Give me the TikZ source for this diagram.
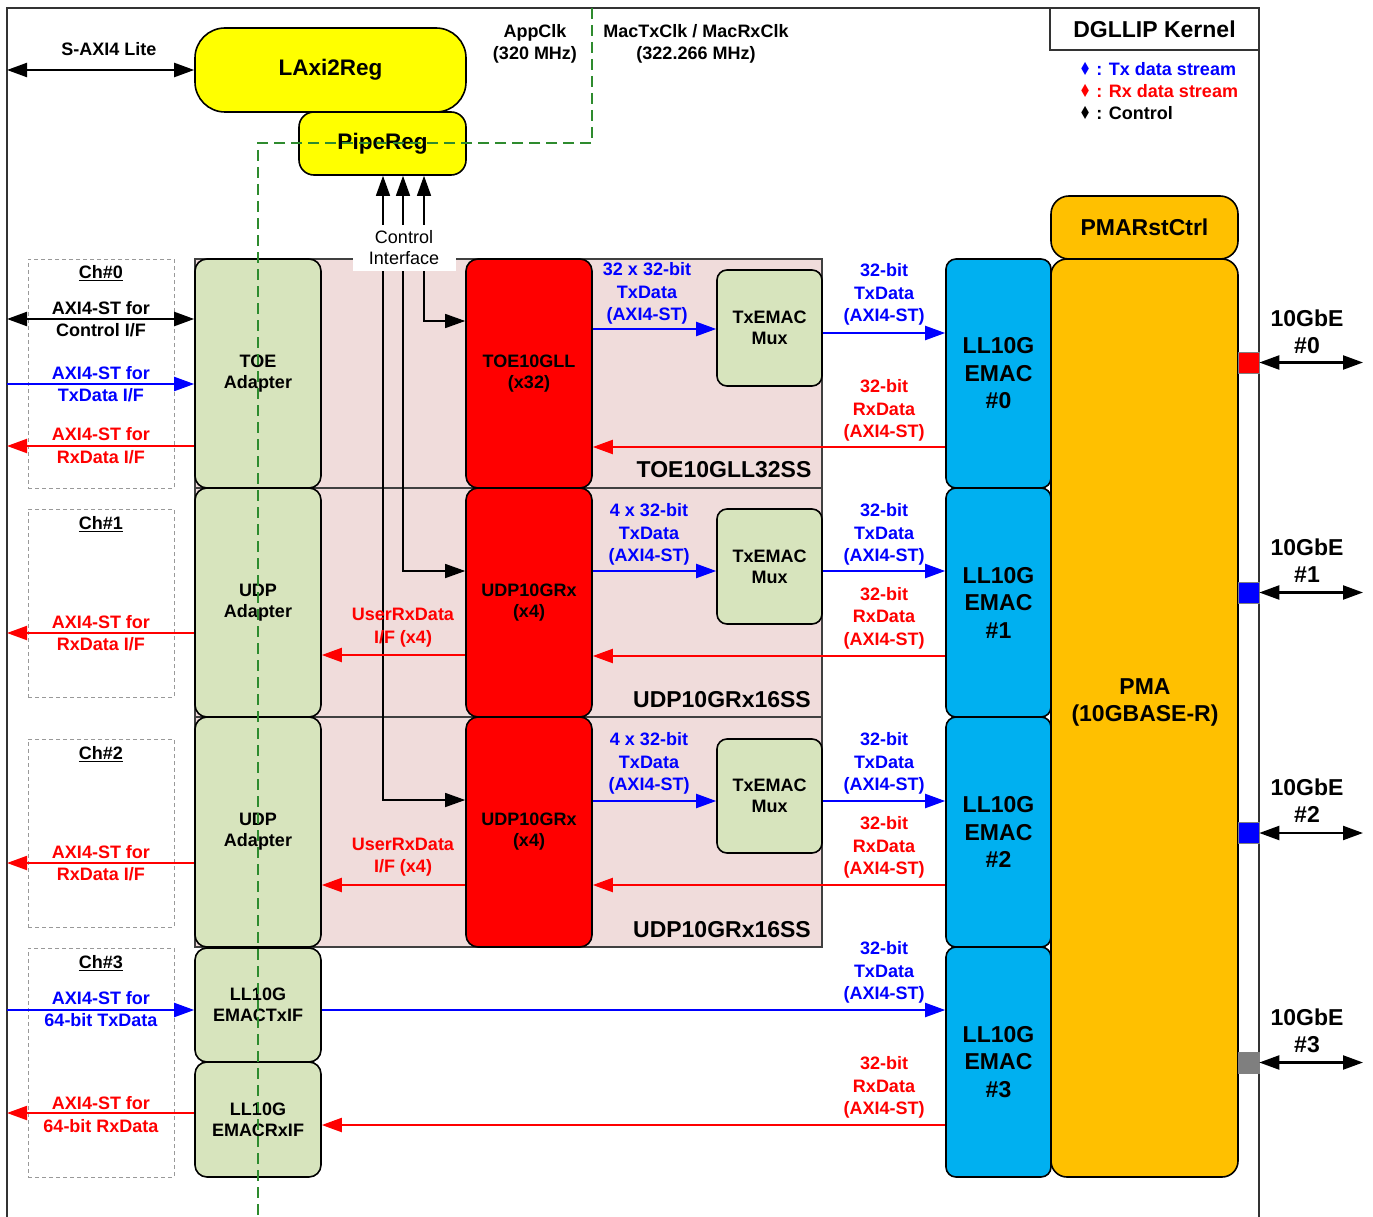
\documentclass[tikz,border=0pt]{standalone}
\usepackage{fontspec}
\setmainfont{Liberation Sans}
\newfontfamily\symfont{DejaVu Sans}
\usetikzlibrary{arrows.meta}

\definecolor{ylw}{HTML}{FFFF00}
\definecolor{adp}{HTML}{D7E4BD}
\definecolor{subfill}{HTML}{F0DCDB}
\definecolor{corered}{HTML}{FF0000}
\definecolor{emacblue}{HTML}{00B0F0}
\definecolor{pmaorange}{HTML}{FFC000}
\definecolor{txc}{HTML}{0000FF}
\definecolor{rxc}{HTML}{FF0000}
\definecolor{clkgreen}{HTML}{2E8B2E}
\definecolor{portgray}{HTML}{7F7F7F}

\newcommand{\fsz}[2]{\fontsize{#1}{#2}\selectfont}
\newcommand{\legmark}{{\symfont\scalebox{0.75}[1]{♦}}}

\tikzset{
  blk/.style={draw=black, line width=1.6pt, align=center, inner sep=0pt,
              font=\fsz{18}{21}\bfseries},
  adapter/.style={blk, fill=adp, rounded corners=12pt, minimum width=126pt},
  core/.style={blk, fill=corered, rounded corners=12pt, minimum width=126pt},
  muxbox/.style={blk, fill=adp, rounded corners=10pt, minimum width=105pt},
  emacbox/.style={blk, fill=emacblue, rounded corners=10pt, minimum width=105pt,
                  font=\fsz{23}{27.5}\bfseries},
  subbox/.style={draw=black!75, line width=1.2pt, fill=subfill, inner sep=0pt,
                 minimum width=627pt},
  chbox/.style={draw=black!40, line width=0.9pt, dash pattern=on 4pt off 3pt,
                inner sep=0pt, minimum width=146pt},
  port/.style={draw=black!50, line width=0.6pt, inner sep=0pt,
               minimum width=21pt, minimum height=21pt},
  lbl/.style={align=center, inner sep=0pt, font=\fsz{18}{22.5}\bfseries},
  biglbl/.style={align=center, inner sep=0pt, font=\fsz{23}{27}\bfseries},
  txa/.style={->, color=txc, line width=2pt},
  rxa/.style={->, color=rxc, line width=2pt},
  cta/.style={<->, color=black, line width=2.2pt},
  ctl/.style={->, color=black, line width=1.4pt},
  frame/.style={draw=black!80, line width=1.5pt},
  clkline/.style={draw=clkgreen, line width=1.5pt, dash pattern=on 11pt off 6pt},
}

\begin{document}
\begin{tikzpicture}[x=1pt, y=-1pt, >={Triangle[length=20pt,width=14pt]}]
\useasboundingbox[fill=white] (0,0) rectangle (1373,1217);

% outer kernel frame
\draw[frame] (7,1217) -- (7,8) -- (1259,8) -- (1259,1217);
\coordinate (fl) at (7,0);
\coordinate (fr) at (1363,0);

% title and legend
\node[draw=black!80, line width=1.5pt, minimum width=209pt, minimum height=42pt,
      inner sep=0pt, font=\fsz{23}{26}\bfseries] (title) at (1154.5,29) {DGLLIP Kernel};
\node[anchor=west, inner sep=0pt, font=\fsz{18}{22}\bfseries, text=txc] (lgtx) at (1079,69)
  {\legmark{} : Tx data stream};
\node[anchor=west, inner sep=0pt, font=\fsz{18}{22}\bfseries, text=rxc] (lgrx) at (1079,91)
  {\legmark{} : Rx data stream};
\node[anchor=west, inner sep=0pt, font=\fsz{18}{22}\bfseries] (lgct) at (1079,113)
  {\legmark{} : Control};

% subsystem backgrounds
\node[subbox, minimum height=229pt] (ss0) at (508.5,373.5) {};
\node[subbox, minimum height=229pt] (ss1) at (508.5,602.5) {};
\node[subbox, minimum height=230pt] (ss2) at (508.5,832) {};
\node[biglbl] (ss0l) at (724,470) {TOE10GLL32SS};
\node[biglbl] (ss1l) at (722,700) {UDP10GRx16SS};
\node[biglbl] (ss2l) at (722,930) {UDP10GRx16SS};

% user channel groups
\node[chbox, minimum height=229pt] (ch0) at (101,373.5) {};
\node[chbox, minimum height=188pt] (ch1) at (101,603) {};
\node[chbox, minimum height=188pt] (ch2) at (101,833) {};
\node[chbox, minimum height=229pt] (ch3) at (101,1062.5) {};
\node[lbl] (ch0t) at (101,273) {\underline{Ch\#0}};
\node[lbl] (ch1t) at (101,524) {\underline{Ch\#1}};
\node[lbl] (ch2t) at (101,754) {\underline{Ch\#2}};
\node[lbl] (ch3t) at (101,963) {\underline{Ch\#3}};

% adapters
\node[adapter, minimum height=229pt] (toea) at (258,373.5) {TOE\\Adapter};
\node[adapter, minimum height=229pt] (udpa1) at (258,602.5) {UDP\\Adapter};
\node[adapter, minimum height=230pt] (udpa2) at (258,832) {UDP\\Adapter};
\node[adapter, minimum height=114pt] (txif) at (258,1005) {LL10G\\EMACTxIF};
\node[adapter, minimum height=115pt] (rxif) at (258,1119.5) {LL10G\\EMACRxIF};

% protocol engines
\node[core, minimum height=229pt] (toeg) at (529,373.5) {TOE10GLL\\(x32)};
\node[core, minimum height=229pt] (udpg1) at (529,602.5) {UDP10GRx\\(x4)};
\node[core, minimum height=230pt] (udpg2) at (529,832) {UDP10GRx\\(x4)};

% Tx muxes
\node[muxbox, minimum height=116pt] (mux0) at (769.5,328) {TxEMAC\\Mux};
\node[muxbox, minimum height=115pt] (mux1) at (769.5,566.5) {TxEMAC\\Mux};
\node[muxbox, minimum height=114pt] (mux2) at (769.5,796) {TxEMAC\\Mux};

% Ethernet MACs
\node[emacbox, minimum height=229pt] (emac0) at (998.5,373.5) {LL10G\\EMAC\\\#0};
\node[emacbox, minimum height=229pt] (emac1) at (998.5,602.5) {LL10G\\EMAC\\\#1};
\node[emacbox, minimum height=230pt] (emac2) at (998.5,832) {LL10G\\EMAC\\\#2};
\node[emacbox, minimum height=230pt] (emac3) at (998.5,1062) {LL10G\\EMAC\\\#3};

% PMA and its reset control
\node[blk, fill=pmaorange, rounded corners=18pt, minimum width=187pt, minimum height=63pt,
      font=\fsz{23}{27}\bfseries] (pmarst) at (1144.5,227.5) {PMARstCtrl};
\node[blk, fill=pmaorange, rounded corners=16pt, minimum width=187pt, minimum height=918pt] (pma) at (1144.5,718) {};
\node[biglbl] (pmal) at (1145,702) {PMA\\(10GBASE-R)};

% serial ports
\node[port, fill=red] (p0) at (1248.5,362.5) {};
\node[port, fill=txc] (p1) at (1248.5,592.5) {};
\node[port, fill=txc] (p2) at (1248.5,833) {};
\node[port, fill=portgray] (p3) at (1248.5,1062.5) {};

% register access
\node[blk, fill=ylw, rounded corners=30pt, minimum width=271pt, minimum height=84pt,
      font=\fsz{22.5}{27}\bfseries] (laxi) at (330.5,70) {LAxi2Reg};
\node[blk, fill=ylw, rounded corners=15pt, minimum width=167pt, minimum height=63pt,
      font=\fsz{22.5}{27}\bfseries] (pipe) at (382.5,143.5) {PipeReg};
\draw[cta] (fl |- laxi.west) -- (laxi.west);
\node[lbl] (saxil) at (109,49) {S-AXI4 Lite};

% clock labels
\node[lbl] (appclk) at (535,44) {AppClk\\(320 MHz)};
\node[lbl] (macclk) at (696,44) {MacTxClk / MacRxClk\\(322.266 MHz)};

% control interface
\node[fill=white, inner sep=0pt, minimum width=103pt, minimum height=46pt, align=center,
      font=\fsz{18}{21}] (ctl) at (404,248) {Control\\Interface};
\coordinate (c1) at (383,0);
\coordinate (c2) at (403,0);
\coordinate (c3) at (424,0);
\draw[ctl] (c1 |- ctl.north) -- (c1 |- pipe.south);
\draw[ctl] (c2 |- ctl.north) -- (c2 |- pipe.south);
\draw[ctl] (c3 |- ctl.north) -- (c3 |- pipe.south);
\draw[ctl] (c3 |- ctl.south) |- (toeg.west |- 0,321);
\draw[ctl] (c2 |- ctl.south) |- (udpg1.west |- 0,571);
\draw[ctl] (c1 |- ctl.south) |- (udpg2.west |- 0,800);

% channel 0
\draw[cta] (fl |- 0,319) -- (toea.west |- 0,319);
\draw[txa] (fl |- 0,384) -- (toea.west |- 0,384);
\draw[rxa] (toea.west |- 0,446) -- (fl |- 0,446);
\node[lbl] at (101,319) {AXI4-ST for\\Control I/F};
\node[lbl, text=txc] at (101,384) {AXI4-ST for\\TxData I/F};
\node[lbl, text=rxc] at (101,445.5) {AXI4-ST for\\RxData I/F};
\draw[txa] (toeg.east |- 0,329) -- (mux0.west |- 0,329);
\draw[txa] (mux0.east |- 0,333) -- (emac0.west |- 0,333);
\draw[rxa] (emac0.west |- 0,447) -- (toeg.east |- 0,447);
\node[lbl, text=txc] at (647,293.5) {32 x 32-bit\\TxData\\(AXI4-ST)};
\node[lbl, text=txc] at (884,294.5) {32-bit\\TxData\\(AXI4-ST)};
\node[lbl, text=rxc] at (884,410.5) {32-bit\\RxData\\(AXI4-ST)};

% channel 1
\draw[rxa] (udpa1.west |- 0,633) -- (fl |- 0,633);
\node[lbl, text=rxc] at (101,633) {AXI4-ST for\\RxData I/F};
\draw[rxa] (udpg1.west |- 0,655) -- (udpa1.east |- 0,655);
\node[lbl, text=rxc] at (403,627.5) {UserRxData\\I/F (x4)};
\draw[txa] (udpg1.east |- 0,571) -- (mux1.west |- 0,571);
\draw[txa] (mux1.east |- 0,571) -- (emac1.west |- 0,571);
\draw[rxa] (emac1.west |- 0,656) -- (udpg1.east |- 0,656);
\node[lbl, text=txc] at (649,534.5) {4 x 32-bit\\TxData\\(AXI4-ST)};
\node[lbl, text=txc] at (884,534.5) {32-bit\\TxData\\(AXI4-ST)};
\node[lbl, text=rxc] at (884,618) {32-bit\\RxData\\(AXI4-ST)};

% channel 2
\draw[rxa] (udpa2.west |- 0,863) -- (fl |- 0,863);
\node[lbl, text=rxc] at (101,863) {AXI4-ST for\\RxData I/F};
\draw[rxa] (udpg2.west |- 0,885) -- (udpa2.east |- 0,885);
\node[lbl, text=rxc] at (403,857) {UserRxData\\I/F (x4)};
\draw[txa] (udpg2.east |- 0,801) -- (mux2.west |- 0,801);
\draw[txa] (mux2.east |- 0,801) -- (emac2.west |- 0,801);
\draw[rxa] (emac2.west |- 0,885) -- (udpg2.east |- 0,885);
\node[lbl, text=txc] at (649,763.5) {4 x 32-bit\\TxData\\(AXI4-ST)};
\node[lbl, text=txc] at (884,763.5) {32-bit\\TxData\\(AXI4-ST)};
\node[lbl, text=rxc] at (884,847.5) {32-bit\\RxData\\(AXI4-ST)};

% channel 3
\draw[txa] (fl |- 0,1010) -- (txif.west |- 0,1010);
\node[lbl, text=txc] at (101,1009) {AXI4-ST for\\64-bit TxData};
\draw[rxa] (rxif.west |- 0,1113) -- (fl |- 0,1113);
\node[lbl, text=rxc] at (101,1114.5) {AXI4-ST for\\64-bit RxData};
\draw[txa] (txif.east |- 0,1010) -- (emac3.west |- 0,1010);
\node[lbl, text=txc] at (884,972.5) {32-bit\\TxData\\(AXI4-ST)};
\draw[rxa] (emac3.west |- 0,1125) -- (rxif.east |- 0,1125);
\node[lbl, text=rxc] at (884,1087.5) {32-bit\\RxData\\(AXI4-ST)};

% 10GbE links
\draw[cta] (p0.east) -- (fr |- p0.east);
\draw[cta] (p1.east) -- (fr |- p1.east);
\draw[cta] (p2.east) -- (fr |- p2.east);
\draw[cta] (p3.east) -- (fr |- p3.east);
\node[biglbl] at (1307,331.5) {10GbE\\\#0};
\node[biglbl] at (1307,560.5) {10GbE\\\#1};
\node[biglbl] at (1307,801) {10GbE\\\#2};
\node[biglbl] at (1307,1030.5) {10GbE\\\#3};

% clock domain boundary
\draw[clkline] (592,8) -- (592,143) -- (258,143) -- (258,1217);
\end{tikzpicture}
\end{document}
